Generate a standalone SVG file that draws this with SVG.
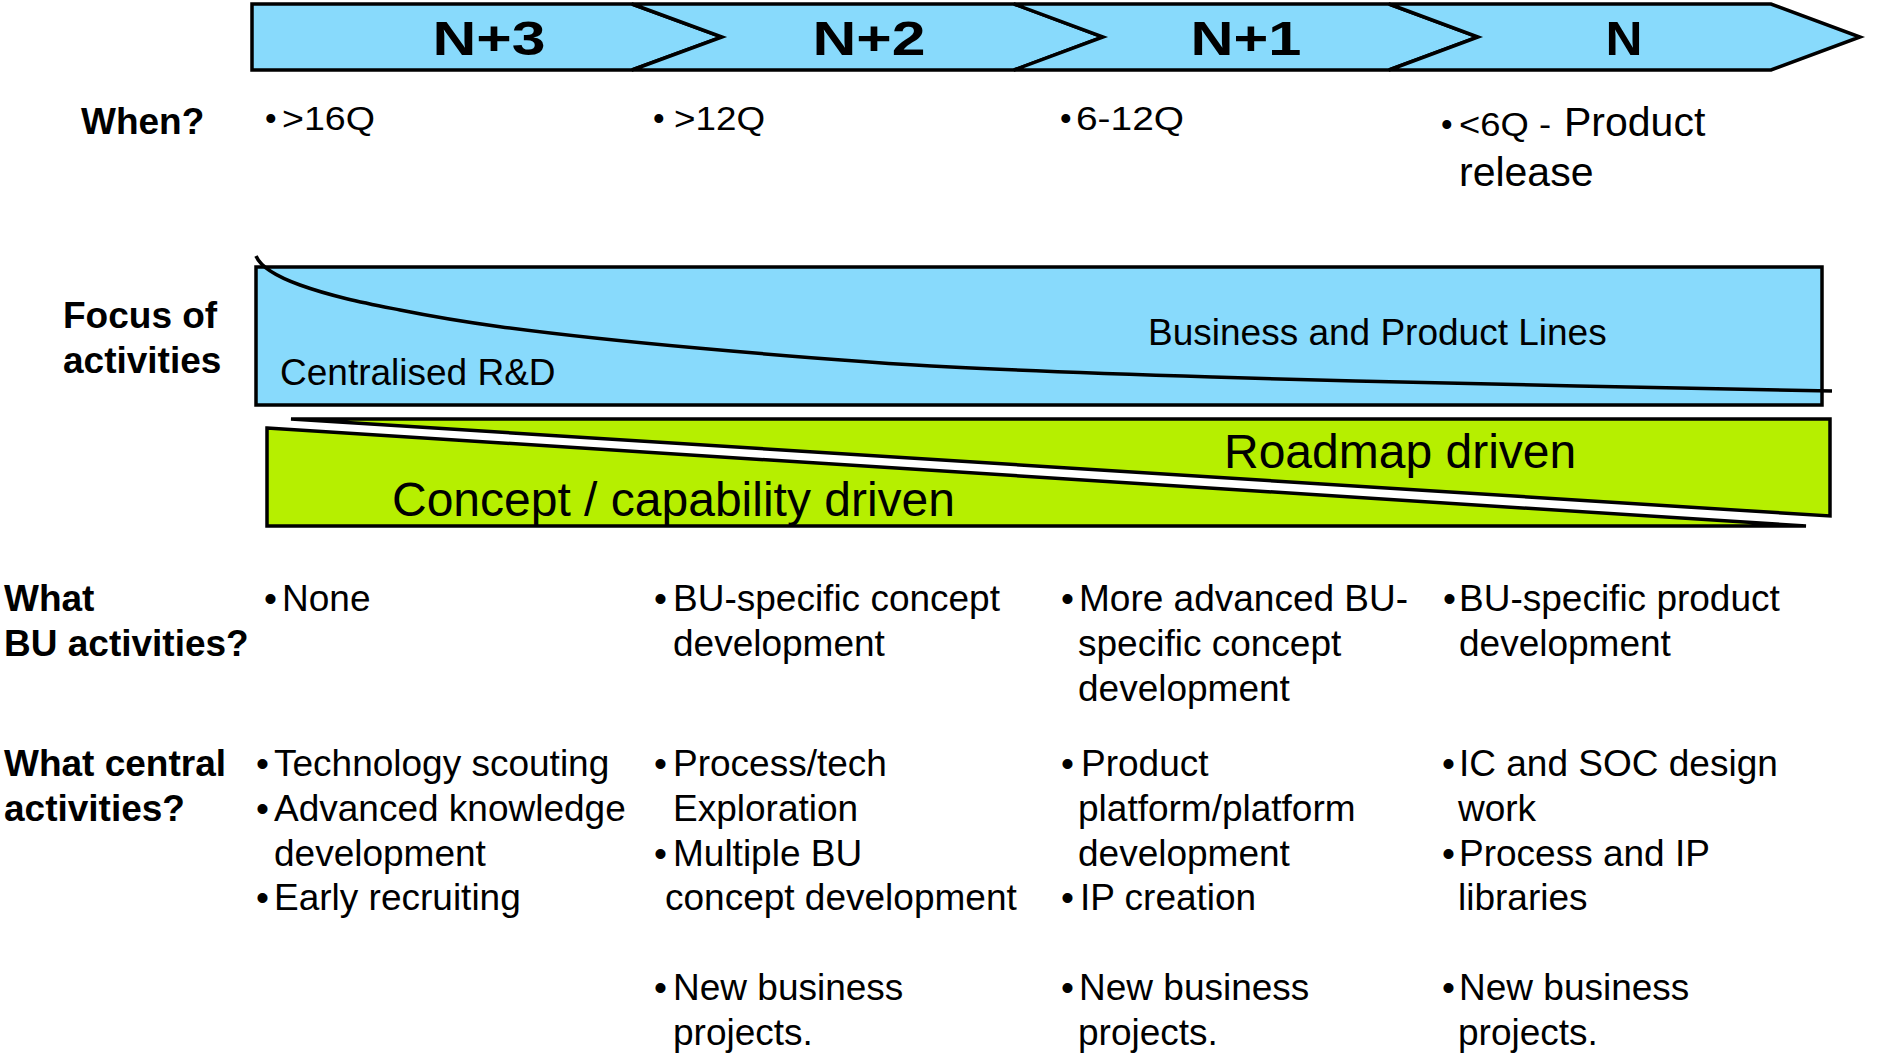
<svg xmlns="http://www.w3.org/2000/svg" width="1902" height="1056" viewBox="0 0 1902 1056">
<style>
  text { font-family: "Liberation Sans", Arial, Helvetica, sans-serif; fill: #000; }
  .chev { fill: #88DAFC; stroke: #000; stroke-width: 3.5; stroke-linejoin: miter; }
  .lbl { font-size: 49px; font-weight: bold; text-anchor: middle; }
  .head { font-size: 37px; font-weight: bold; }
  .body { font-size: 37px; }
  .small { font-size: 33px; }
  .big { font-size: 41px; }
  .drive { font-size: 48px; }
  .lime { fill: #B6EF00; stroke: #000; stroke-width: 3.5; stroke-linejoin: miter; }
  .blue { fill: #88DAFC; stroke: #000; stroke-width: 3.5; }
  .curve { fill: none; stroke: #000; stroke-width: 3.5; }
</style>
<rect x="0" y="0" width="1902" height="1056" fill="#FFFFFF"/>

<g id="chevron-n3">
  <path class="chev" d="M252,4 H632 L722,37 L632,70 H252 Z"/>
  <text class="lbl" x="489" y="55" textLength="113" lengthAdjust="spacingAndGlyphs">N+3</text>
</g>
<g id="chevron-n2">
  <path class="chev" d="M632,4 H1014 L1103,37 L1014,70 H632 L722,37 Z"/>
  <text class="lbl" x="869" y="55" textLength="113" lengthAdjust="spacingAndGlyphs">N+2</text>
</g>
<g id="chevron-n1">
  <path class="chev" d="M1014,4 H1389 L1478,37 L1389,70 H1014 L1103,37 Z"/>
  <text class="lbl" x="1246" y="55" textLength="111" lengthAdjust="spacingAndGlyphs">N+1</text>
</g>
<g id="chevron-n">
  <path class="chev" d="M1389,4 H1771 L1860,37 L1771,70 H1389 L1478,37 Z"/>
  <text class="lbl" x="1624" y="55" textLength="37" lengthAdjust="spacingAndGlyphs">N</text>
</g>

<g id="row-labels">
  <text class="head" x="81" y="134">When?</text>
  <text class="head" x="63" y="328">Focus of</text>
  <text class="head" x="63" y="373">activities</text>
  <text class="head" x="4" y="611">What</text>
  <text class="head" x="4" y="655.8">BU activities?</text>
  <text class="head" x="4" y="776">What central</text>
  <text class="head" x="4" y="820.8">activities?</text>
</g>

<g id="when-row">
  <text class="small" x="265" y="129.5">•</text>
  <text class="small" x="282" y="129.5" textLength="93" lengthAdjust="spacingAndGlyphs">&gt;16Q</text>
  <text class="small" x="653" y="129.5">•</text>
  <text class="small" x="674" y="129.5" textLength="91" lengthAdjust="spacingAndGlyphs">&gt;12Q</text>
  <text class="small" x="1060" y="129.5">•</text>
  <text class="small" x="1076" y="129.5" textLength="108" lengthAdjust="spacingAndGlyphs">6-12Q</text>
  <text class="small" x="1441" y="135.7">•</text>
  <text class="small" x="1459" y="135.7" textLength="92" lengthAdjust="spacingAndGlyphs">&lt;6Q -</text>
  <text class="big" x="1564" y="135.7">Product</text>
  <text class="big" x="1459" y="185.7">release</text>
</g>

<g id="focus">
  <rect class="blue" x="256" y="267" width="1566" height="138"/>
  <path class="curve" d="M256,256 C262,270 285.3,279.7 300,285 C333.3,297 366.7,303.3 400,310 C433.3,316.7 466.7,322.2 500,326.7 C566.7,335.7 633.3,342.3 700,348.3 C783.7,355.8 867.3,362.8 951,367 C1038.3,371.4 1125.7,374.2 1213,377 C1334.3,380.9 1455.7,383.6 1577,386 C1662,387.7 1747,389.7 1832,391"/>
  <text class="body" x="1148" y="345">Business and Product Lines</text>
  <text class="body" x="280" y="385">Centralised R&amp;D</text>
</g>

<g id="drivers">
  <polygon class="lime" points="291,419 1830,419 1830,516"/>
  <polygon class="lime" points="267,428 1806,526 267,526"/>
  <text class="drive" x="1224" y="468">Roadmap driven</text>
  <text class="drive" x="392" y="516">Concept / capability driven</text>
</g>

<g id="bu-n3">
  <text class="body" x="264" y="611">•</text>
  <text class="body" x="282" y="611">None</text>
</g>
<g id="bu-n2">
  <text class="body" x="654" y="611">•</text>
  <text class="body" x="673" y="611">BU-specific concept</text>
  <text class="body" x="673" y="655.8">development</text>
</g>
<g id="bu-n1">
  <text class="body" x="1061" y="611">•</text>
  <text class="body" x="1079" y="611">More advanced BU-</text>
  <text class="body" x="1078" y="655.8">specific concept</text>
  <text class="body" x="1078" y="700.6">development</text>
</g>
<g id="bu-n">
  <text class="body" x="1443" y="611">•</text>
  <text class="body" x="1459" y="611">BU-specific product</text>
  <text class="body" x="1459" y="655.8">development</text>
</g>

<g id="central-n3">
  <text class="body" x="256" y="776">•</text>
  <text class="body" x="274" y="776">Technology scouting</text>
  <text class="body" x="256" y="820.8">•</text>
  <text class="body" x="274" y="820.8">Advanced knowledge</text>
  <text class="body" x="274" y="865.6">development</text>
  <text class="body" x="256" y="910.4">•</text>
  <text class="body" x="274" y="910.4">Early recruiting</text>
</g>
<g id="central-n2">
  <text class="body" x="654" y="776">•</text>
  <text class="body" x="673" y="776">Process/tech</text>
  <text class="body" x="673" y="820.8">Exploration</text>
  <text class="body" x="654" y="865.6">•</text>
  <text class="body" x="673" y="865.6">Multiple BU</text>
  <text class="body" x="665" y="910.4">concept development</text>
  <text class="body" x="654" y="1000">•</text>
  <text class="body" x="673" y="1000">New business</text>
  <text class="body" x="673" y="1044.8">projects.</text>
</g>
<g id="central-n1">
  <text class="body" x="1061" y="776">•</text>
  <text class="body" x="1081" y="776">Product</text>
  <text class="body" x="1078" y="820.8">platform/platform</text>
  <text class="body" x="1078" y="865.6">development</text>
  <text class="body" x="1061" y="910.4">•</text>
  <text class="body" x="1080" y="910.4">IP creation</text>
  <text class="body" x="1061" y="1000">•</text>
  <text class="body" x="1079" y="1000">New business</text>
  <text class="body" x="1078" y="1044.8">projects.</text>
</g>
<g id="central-n">
  <text class="body" x="1442" y="776">•</text>
  <text class="body" x="1459" y="776">IC and SOC design</text>
  <text class="body" x="1458" y="820.8">work</text>
  <text class="body" x="1442" y="865.6">•</text>
  <text class="body" x="1459" y="865.6">Process and IP</text>
  <text class="body" x="1458" y="910.4">libraries</text>
  <text class="body" x="1442" y="1000">•</text>
  <text class="body" x="1459" y="1000">New business</text>
  <text class="body" x="1458" y="1044.8">projects.</text>
</g>
</svg>
